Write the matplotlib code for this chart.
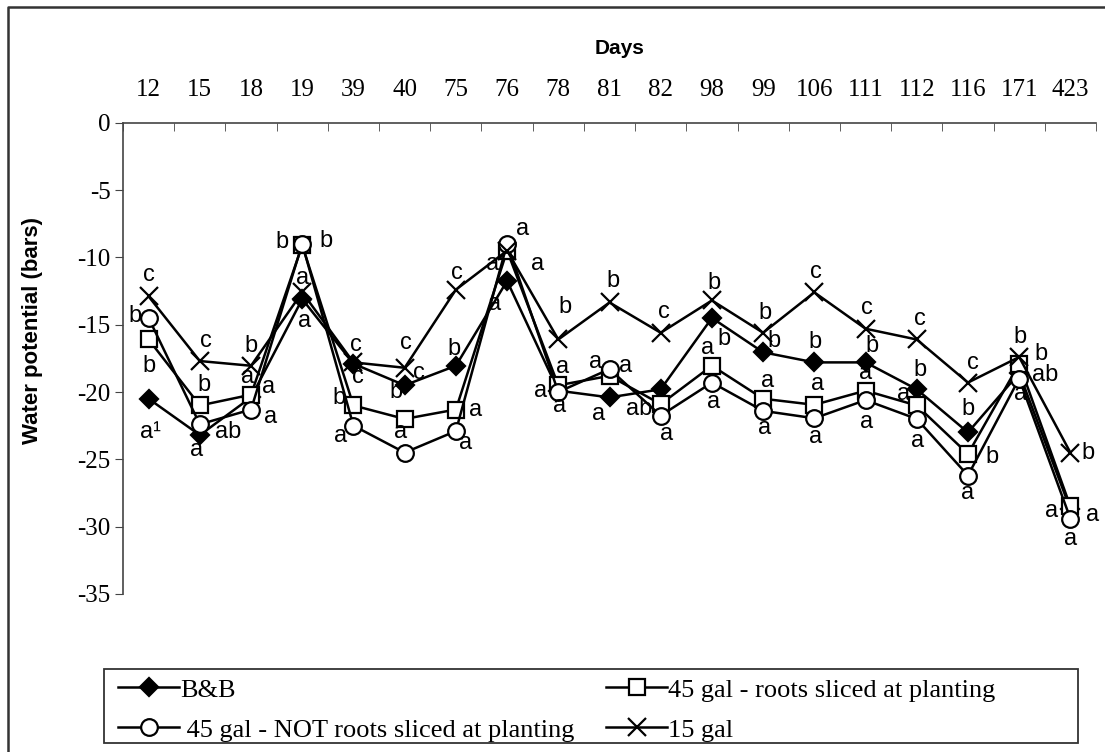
import matplotlib
matplotlib.use("Agg")
import matplotlib.pyplot as plt
from matplotlib.lines import Line2D
from matplotlib.patches import Rectangle
import numpy as np

plt.rcParams['axes.unicode_minus'] = False

# Days after planting (category axis)
days = ['12', '15', '18', '19', '39', '40', '75', '76', '78', '81', '82',
        '98', '99', '106', '111', '112', '116', '171', '423']

# Water potential (bars) per treatment
bb = [-20.5, -23.2, -20.4, -13.1, -17.9, -19.5, -18.05, -11.75, -19.9, -20.4,
      -19.8, -14.5, -17.05, -17.8, -17.8, -19.8, -23.0, -18.6, -28.7]
sliced = [-16.1, -21.0, -20.2, -9.1, -21.0, -22.0, -21.3, -9.5, -19.5, -18.8,
          -20.9, -18.05, -20.5, -20.95, -19.9, -21.0, -24.6, -17.9, -28.5]
not_sliced = [-14.5, -22.4, -21.3, -9.0, -22.5, -24.5, -22.9, -9.0, -20.0, -18.3,
              -21.75, -19.3, -21.4, -21.95, -20.6, -22.0, -26.2, -19.0, -29.4]
gal15 = [-12.9, -17.7, -18.05, -12.6, -17.8, -18.2, -12.4, -9.5, -16.1, -13.35,
         -15.6, -13.2, -15.6, -12.6, -15.3, -16.1, -19.3, -17.4, -24.5]

# mean separation letters
bb_letters = ['a\u00b9', 'a', 'a', 'a', 'c', 'c', 'b', 'a', 'a', 'a', '', 'b', 'b',
              'b', 'b', 'b', 'b', 'ab', 'a']
sliced_letters = ['b', 'b', 'a', 'b', 'b', 'b', 'a', 'a', 'a', 'a', 'ab', 'a', 'a',
                  'a', 'a', 'a', 'b', 'b', 'a']
not_sliced_letters = ['b', 'ab', 'a', 'b', 'a', 'a', 'a', 'a', 'a', 'a', 'a', 'a',
                      'a', 'a', 'a', 'a', 'a', 'a', 'a']
gal15_letters = ['c', 'c', 'b', 'a', 'c', 'c', 'c', 'a', 'b', 'b', 'c', 'b', 'b',
                 'c', 'c', 'c', 'c', 'b', 'b']

# where each letter sits relative to its marker (pixels, +y = down)
bb_off = [(2, 33), (-3, 15), (-3, -20), (2, 22), (4, 13), (14, -12), (-2, -17),
          (-13, 23), (-18, 0), (-11, 17), (0, 0), (12, 21), (11, -11), (1, -20),
          (6, -16), (3, -19), (0, -23), (26, 2), (22, 6)]
sliced_off = [(0, 27), (4, -20), (18, -8), (24, -4), (-14, -7), (-9, -27), (20, 0),
              (-15, 13), (4, -18), (16, -10), (-22, 5), (-4, -18), (4, -18),
              (3, -21), (0, -18), (-13, -11), (24, 3), (22, -10), (-19, 5)]
not_sliced_off = [(-14, -2), (28, 8), (20, 7), (-20, -2), (-13, 10), (-4, -21),
                  (10, 12), (15, -15), (1, 14), (-14, -7), (6, 18), (2, 19),
                  (1, 17), (1, 19), (1, 22), (1, 22), (0, 17), (1, 15), (0, 20)]
gal15_off = [(0, -21), (6, -20), (0, -20), (0, -14), (2, -17), (1, -25), (1, -17),
             (30, 13), (7, -32), (3, -21), (3, -21), (2, -17), (2, -20), (2, -20),
             (1, -21), (3, -20), (5, -20), (1, -20), (18, 0)]

serif = 'Liberation Serif'
sans = 'Liberation Sans'

fig = plt.figure(figsize=(11.05, 7.52), dpi=100)
ax = fig.add_axes([123 / 1105, 1 - 594 / 752, 973 / 1105, 471.3 / 752])

x = np.arange(len(days))
series = [
    (bb, 'B&B', dict(marker='D', markersize=9, markerfacecolor='black'), bb_letters, bb_off),
    (sliced, '45 gal - roots sliced at planting',
     dict(marker='s', markersize=11, markerfacecolor='white'), sliced_letters, sliced_off),
    (not_sliced, ' 45 gal - NOT roots sliced at planting',
     dict(marker='o', markersize=12, markerfacecolor='white'), not_sliced_letters, not_sliced_off),
    (gal15, '15 gal', dict(marker='x', markersize=13), gal15_letters, gal15_off),
]

handles = []
for vals, name, mk, letters, offs in series:
    h, = ax.plot(x, vals, color='black', lw=1.8, markeredgecolor='black',
                 markeredgewidth=1.6, label=name, clip_on=False, **mk)
    handles.append(h)
    for xi, yi, lab, (dx, dy) in zip(x, vals, letters, offs):
        if lab:
            ax.annotate(lab, (xi, yi), xytext=(dx, -dy), textcoords='offset pixels',
                        ha='center', va='center', fontsize=17, family=sans)

ax.set_xlim(-0.5, len(days) - 0.5)
ax.set_ylim(-35, 0)

for s in ['right', 'bottom']:
    ax.spines[s].set_visible(False)
for s in ['top', 'left']:
    ax.spines[s].set_color('#444444')
    ax.spines[s].set_linewidth(1.2)

ax.xaxis.tick_top()
ax.set_xticks(x)
ax.set_xticklabels(days, family=serif, fontsize=18)
ax.set_xticks(np.arange(-0.5, len(days)), minor=True)
ax.tick_params(axis='x', which='major', length=0, pad=15.5)
ax.tick_params(axis='x', which='minor', length=6, direction='in', color='#444444')

yt = np.arange(0, -36, -5)
ax.set_yticks(yt)
ax.set_yticklabels([str(v) for v in yt], family=serif, fontsize=18)
ax.tick_params(axis='y', length=6, direction='out', pad=3, color='#444444')

fig.text(620 / 1105, 1 - 48 / 752, 'Days', ha='center', va='center',
         fontsize=15, fontweight='bold', family=sans)
fig.text(33 / 1105, 1 - 330 / 752, 'Water potential (bars)', ha='center',
         va='center', rotation=90, fontsize=16, fontweight='bold', family=sans)

# legend box
fig.patches.append(Rectangle((104 / 1105, 1 - 743 / 752), 974 / 1105, 74 / 752,
                             transform=fig.transFigure, fill=False,
                             edgecolor='#333333', lw=1.3))
order = [handles[0], handles[2], handles[1], handles[3]]
fig.legend(order, [h.get_label() for h in order], ncol=2, frameon=False,
           loc='upper left', bbox_to_anchor=(109 / 1105, 1 - 669 / 752),
           prop={'family': serif, 'size': 19}, handlelength=2.3,
           handletextpad=0.05, columnspacing=1.2, labelspacing=0.62,
           borderpad=0.35, borderaxespad=0)

# outer chart border (only top/left fall inside the image)
fig.lines.append(Line2D([8 / 1105, 8 / 1105, 1.0], [0, 1 - 7 / 752, 1 - 7 / 752],
                        transform=fig.transFigure, color='#333333', lw=1.8))

fig.savefig('out.png', dpi=100)
